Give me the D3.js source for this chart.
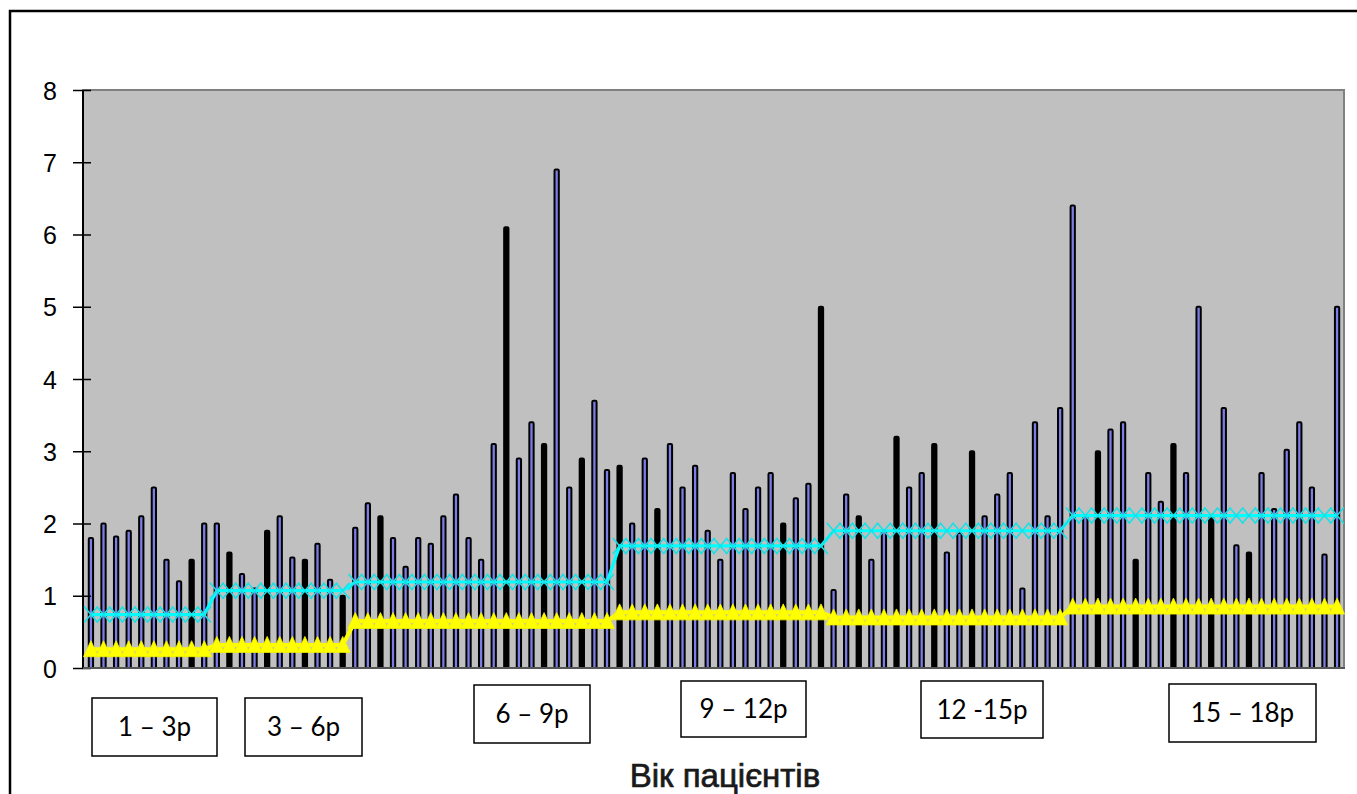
<!DOCTYPE html>
<html>
<head>
<meta charset="utf-8">
<script src="https://cdn.jsdelivr.net/npm/d3@7"></script>
<style>
  body { margin: 0; background: #fff; }
  svg { display: block; }
</style>
</head>
<body>
<div id="app"></div>
<script>
// age groups and how many patients each holds
const groupLabels = ["1 – 3р", "3 – 6р", "6 – 9р", "9 – 12р", "12 -15р", "15 – 18р"];
const groupSizes = [10, 11, 21, 17, 19, 22];

// group norms drawn as step lines
const cyanNorm = [0.74, 1.07, 1.19, 1.69, 1.9, 2.11];
const yellowNorm = [0.26, 0.32, 0.65, 0.77, 0.7, 0.85];

// one value per patient
const values = [
  1.8, 2.0, 1.82, 1.9, 2.1, 2.5, 1.5, 1.2, 1.5, 2.0,
  2.0, 1.6, 1.3, 1.1, 1.9, 2.1, 1.53, 1.5, 1.72, 1.22, 1.0,
  1.94, 2.28, 2.1, 1.8, 1.4, 1.8, 1.72, 2.1, 2.4, 1.8, 1.5, 3.1, 6.1, 2.9, 3.4, 3.1, 6.9, 2.5, 2.9, 3.7, 2.74,
  2.8, 2.0, 2.9, 2.2, 3.1, 2.5, 2.8, 1.9, 1.5, 2.7, 2.2, 2.5, 2.7, 2.0, 2.35, 2.55, 5.0,
  1.08, 2.4, 2.1, 1.5, 1.9, 3.2, 2.5, 2.7, 3.1, 1.6, 1.87, 3.0, 2.1, 2.4, 2.7, 1.1, 3.4, 2.1, 3.6,
  6.4, 2.1, 3.0, 3.3, 3.4, 1.5, 2.7, 2.3, 3.1, 2.7, 5.0, 2.1, 3.6, 1.7, 1.6, 2.7, 2.2, 3.02, 3.4, 2.5, 1.57, 5.0
];

// patients (1-based) whose bar is filled black
const darkBars = [9, 12, 15, 18, 21, 24, 34, 37, 40, 43, 46, 56, 59, 62, 65, 68, 71, 81, 84, 87, 90, 93];

const yTicks = [0, 1, 2, 3, 4, 5, 6, 7, 8];

const width = 1357;
const height = 794;
const plot = { left: 83, right: 1345, top: 90, bottom: 668 };

// label boxes under the axis (annotation layout)
const boxes = [
  { x: 92, y: 698, w: 125, h: 58 },
  { x: 245, y: 698, w: 117, h: 58 },
  { x: 474, y: 685, w: 116, h: 58 },
  { x: 681, y: 681, w: 125, h: 56 },
  { x: 921, y: 681, w: 122, h: 57 },
  { x: 1169, y: 684, w: 147, h: 58 },
];

// expand the group tables to one entry per patient
const groupOf = groupSizes.flatMap((n, g) => d3.range(n).map(() => g));
const data = values.map((v, i) => ({
  i,
  value: v,
  dark: darkBars.includes(i + 1),
  cyan: cyanNorm[groupOf[i]],
  yellow: yellowNorm[groupOf[i]],
}));

const x = d3.scaleBand()
  .domain(data.map((d) => d.i))
  .range([plot.left, plot.right])
  .paddingInner(0.5)
  .paddingOuter(0.38);

const y = d3.scaleLinear().domain([0, 8]).range([plot.bottom, plot.top]);

const cx = (d) => x(d.i) + x.bandwidth() / 2;

const svg = d3.select("#app")
  .append("svg")
  .attr("width", width)
  .attr("height", height);

// outer frame
svg.append("rect")
  .attr("x", 10)
  .attr("y", 11)
  .attr("width", width + 20)
  .attr("height", height + 20)
  .attr("fill", "#fff")
  .attr("stroke", "#000")
  .attr("stroke-width", 2.5);

// plot background
svg.append("rect")
  .attr("x", plot.left)
  .attr("y", plot.top)
  .attr("width", plot.right - plot.left - 1)
  .attr("height", plot.bottom - plot.top)
  .attr("fill", "#c0c0c0")
  .attr("stroke", "#808080")
  .attr("stroke-width", 2);

// bars
const sw = 2;
svg.append("g")
  .selectAll("rect")
  .data(data)
  .join("rect")
  .attr("x", (d) => x(d.i) + sw / 2)
  .attr("y", (d) => y(d.value))
  .attr("width", x.bandwidth() - sw)
  .attr("height", (d) => y(0) - y(d.value))
  .attr("rx", 1.2)
  .attr("fill", (d) => (d.dark ? "#000" : "#7d7de6"))
  .attr("stroke", "#000")
  .attr("stroke-width", sw);

// y axis with crossing ticks
const yAxis = svg.append("g")
  .attr("transform", `translate(${plot.left},0)`)
  .call(d3.axisLeft(y).tickValues(yTicks).tickFormat(d3.format("d")).tickSize(10));

yAxis.select(".domain")
  .attr("stroke", "#000")
  .attr("stroke-width", 2)
  .attr("d", `M0,${plot.top}V${plot.bottom}`);

yAxis.selectAll(".tick line")
  .attr("x1", 8)
  .attr("x2", -10)
  .attr("stroke", "#000")
  .attr("stroke-width", 1.5);

yAxis.selectAll(".tick text")
  .attr("x", -26)
  .attr("dy", "0.36em")
  .style("font-family", "'Liberation Sans', Arial, sans-serif")
  .style("font-size", "25px")
  .attr("fill", "#000");

// baseline
svg.append("line")
  .attr("x1", plot.left)
  .attr("x2", plot.right)
  .attr("y1", y(0))
  .attr("y2", y(0))
  .attr("stroke", "#555")
  .attr("stroke-width", 2);

// yellow norm: thick line with filled triangles
const yellowLine = d3.line().x(cx).y((d) => y(d.yellow));
svg.append("path")
  .datum(data)
  .attr("d", yellowLine)
  .attr("fill", "none")
  .attr("stroke", "#ffff00")
  .attr("stroke-width", 4);

svg.append("g")
  .selectAll("path")
  .data(data)
  .join("path")
  .attr("transform", (d) => `translate(${cx(d)},${y(d.yellow)})`)
  .attr("d", "M0,-8.5L7.5,7.5L-7.5,7.5Z")
  .attr("fill", "#ffff00")
  .attr("stroke", "#f2f200")
  .attr("stroke-width", 0.8);

// cyan norm: line with x markers
const cyanLine = d3.line().x(cx).y((d) => y(d.cyan));
svg.append("path")
  .datum(data)
  .attr("d", cyanLine)
  .attr("fill", "none")
  .attr("stroke", "#00ffff")
  .attr("stroke-width", 3.2);

svg.append("g")
  .selectAll("path")
  .data(data)
  .join("path")
  .attr("transform", (d) => `translate(${cx(d)},${y(d.cyan)})`)
  .attr("d", "M-6.8,-8L6.8,8M-6.8,8L6.8,-8")
  .attr("fill", "none")
  .attr("stroke", "#19dfe6")
  .attr("stroke-width", 1.6);

// age group boxes
const box = svg.append("g")
  .selectAll("g")
  .data(boxes)
  .join("g")
  .attr("transform", (d) => `translate(${d.x},${d.y})`);

box.append("rect")
  .attr("width", (d) => d.w)
  .attr("height", (d) => d.h)
  .attr("fill", "#fff")
  .attr("stroke", "#000")
  .attr("stroke-width", 1.5);

box.append("text")
  .attr("x", (d) => d.w / 2)
  .attr("y", (d) => d.h / 2 + 9)
  .attr("text-anchor", "middle")
  .style("font-family", "Lato, 'Open Sans', sans-serif")
  .style("font-size", "26px")
  .attr("fill", "#000")
  .text((d, i) => groupLabels[i]);

// axis title
svg.append("text")
  .attr("x", 725)
  .attr("y", 787)
  .attr("text-anchor", "middle")
  .style("font-family", "'Liberation Sans', Arial, sans-serif")
  .style("font-size", "33px")
  .attr("fill", "#1a1a1a")
  .attr("stroke", "#1a1a1a")
  .attr("stroke-width", 0.7)
  .text("Вік пацієнтів");
</script>
</body>
</html>
